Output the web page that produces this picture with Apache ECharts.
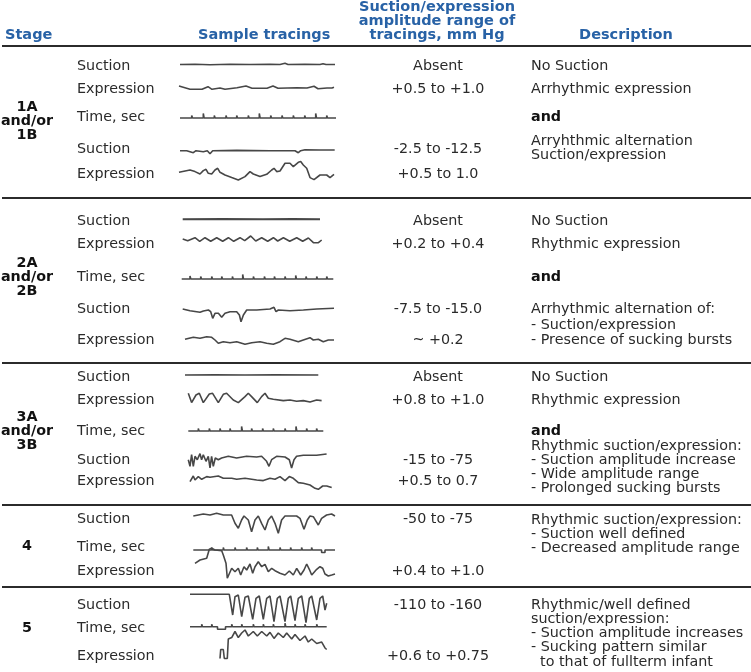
<!DOCTYPE html>
<html><head><meta charset="utf-8">
<script src="https://cdn.jsdelivr.net/npm/echarts@6/dist/echarts.min.js"></script>
<style>html,body{margin:0;padding:0;background:#fff;}#c{width:751px;height:672px;}</style>
</head><body><div id="c"></div>
<script>
// ---------- DATA (tracing deflections: [time, amplitude]) ----------
const r1Suction = [[0,0],[15,0.3],[30,-0.2],[50,0.2],[70,0],[90,0.2],[100,0],[102,1.3],[105,1.2],[108,0],[125,0.2],[140,0],[143,0.7],[146,0],[155,0]];
const r1Expression = [[0,2],[11,-1.3],[23,-1.3],[29,1.3],[33,-1.3],[41,0],[46,-1.3],[58,0.3],[67,2],[73,-0.3],[88,-0.3],[94,2],[99,-0.3],[118,0.3],[128,0],[135,1.7],[139,-0.7],[148,0],[150,1.7],[153,0],[155,0.7]];
const r1TimeTicks = [[11.7,12.5,2.5],[23.3,24.1,4.5],[34.3,35.1,2.5],[46,46.8,2.5],[56.7,57.5,2.5],[68.3,69.1,2.5],[79.3,80.1,4.5],[90.7,91.5,2.5],[102,102.8,2.5],[113.3,114.1,2.5],[124.7,125.5,2.5],[135.7,136.5,4.5],[146.7,147.5,2.5]];
const r1Suction2 = [[0,0],[6.7,0],[13.3,-2],[16,0],[23.3,-1],[27.3,0],[30,-3],[32.7,0],[56.7,0.3],[90,0],[115,0],[118.3,-2],[120.7,0],[125,1],[140,0.7],[154.7,0.7]];
const r1Expression2 = [[0,1],[11,3.3],[16,1.7],[21,-0.7],[24.3,2.7],[27,4],[29.3,0],[32.7,-0.7],[36,3.3],[38.7,5],[41,1],[46,-1.7],[52.7,-4.3],[59.3,-6.7],[66,-3.3],[71,1.7],[74.3,-0.7],[81,-3.3],[87.7,-1],[92.7,3.3],[95,5],[97.7,1.7],[101,2.3],[106,10],[111,10],[114.3,6.7],[119.3,11],[121.7,11.7],[124.3,8.3],[127.7,5],[131,-4.3],[135,-6.3],[141,-1.7],[147.7,-1.7],[151,-4.3],[155,-1]];

const r2Suction = [[0,0],[40,0.2],[80,0],[110,0.2],[137.3,0]];
const r2Expression = [[0,1],[5,-0.7],[12.3,2.3],[17,-1.3],[22.3,2.3],[28,-1.3],[34,2.3],[40,-1.3],[45.7,2.3],[51,-1.3],[57.3,2.3],[62,-0.7],[68,4],[73,-1],[79,2.3],[85,-1.3],[90.7,2.3],[95,-1],[100.7,2.3],[107,-1.3],[114,2.3],[120,-1.3],[125.7,2],[130.7,-2.7],[135.7,-2.7],[139,0]];
const r2TimeTicks = [[8.3,9.1,3],[19,19.8,2.5],[30,30.8,2.5],[40,40.8,2.5],[50.7,51.5,2.5],[61,61.8,4.5],[71.7,72.5,2.5],[82.7,83.5,2.5],[92.7,93.5,2.5],[103.3,104.1,2.5],[114,114.8,3.5],[124.3,125.1,2.5],[135,135.8,2.5],[145,145.8,2.5]];
const r2Suction2 = [[0,0],[7.3,-1.7],[17.3,-3.3],[20.7,-2],[25.7,-1],[28,-2.7],[30,-9.3],[32.3,-4.3],[35.7,-4.3],[39,-8.3],[42.3,-4.3],[47.3,-2.7],[54,-2.7],[56.7,-6],[58.3,-12.7],[60.7,-6],[64,-1],[74,-1],[87.3,0],[91.3,1.7],[93.3,-2.7],[95.7,-1],[107.3,-1.7],[120.7,-1],[134,0],[151.3,0.7]];
const r2Expression2 = [[0,0.7],[8.3,2.7],[15,1.7],[21.7,3.3],[26.7,2.7],[30,0],[33.3,-3.3],[38.3,-1.7],[45,-2.7],[51.7,-1.7],[60,-4.3],[66.7,-2.7],[75,-1.7],[81.7,-3.3],[88.3,-4.3],[95,-1.7],[100,1.7],[105,0.7],[113.3,-1.7],[118.3,0],[125,2.3],[128.3,0],[133.3,0.7],[138.3,-1.7],[143.3,0],[149,0]];

const r3Suction = [[0,0],[30,0.2],[60,0],[90,0.3],[133.3,0]];
const r3Expression = [[0,5],[3.3,-4.3],[7.7,3.3],[11,5],[15,-4.3],[21,4.3],[24.3,5],[30,-4.3],[35,4],[38.3,5],[45,-1.7],[50,-4.3],[56.7,1.7],[60,5],[63.3,1.7],[69,-4.3],[73.3,1.7],[76.7,5],[80,0],[85,-1],[95,-2.3],[101.7,-1.7],[108.3,-3],[115,-2.3],[121.7,-3.7],[128.3,-1.7],[133.3,-2.3]];
const r3TimeTicks = [[10,10.8,2.5],[21,21.8,2.5],[31.7,32.5,2.5],[41.7,42.5,2.5],[53.3,54.1,4.5],[63.3,64.1,2.5],[74.3,75.1,2.5],[85,85.8,2.5],[96.7,97.5,2.5],[107.7,108.5,4.5],[118.3,119.1,2.5],[128.3,129.1,2.5]];
const r3Suction2 = [[0,-2.7],[1.7,-9.3],[3.3,2.3],[5,-9.3],[6.7,0.7],[9,-2.7],[11.7,3.3],[13.3,-2.7],[15,2.3],[17.7,-4.3],[20,0.7],[21.7,-11],[23.3,0.7],[25,-9.3],[27,-1],[30,-2.7],[33.3,-1],[40,0.7],[48.3,-1],[58.3,0.7],[68.3,0],[73.3,0.7],[78.3,-4.3],[80.7,-9.3],[83.3,-2.7],[88.3,0.7],[96.7,0],[101,-2.7],[103.3,-11],[105.7,-2.7],[108.3,0.7],[115,1.7],[128.3,1.7],[138.3,3]];
const r3Expression2 = [[0,-3.3],[3.3,2.3],[5,-1.7],[8.3,1.7],[11.7,-1],[16.7,1.7],[20,1],[28.3,2.3],[33.3,0],[41.7,0],[46.7,-1],[55,0],[66.7,-1.7],[73.3,-2.3],[80,0],[85,-1],[90,1.7],[95,-2.3],[99.3,1.7],[103.3,0],[108.3,-4.3],[113.3,-5],[120,-6.7],[125,-10],[128.3,-11],[132.7,-7.7],[136.7,-7.7],[141.7,-9.3]];

const r4Suction = [[0,-1],[10,1],[16.7,0],[23.3,1.7],[30,0],[38.3,0],[41.7,-8.3],[45,-13.3],[48.3,-5],[50.7,-1],[55,-5],[58.3,-16.7],[61.7,-5],[65,-1],[68.3,-8.3],[71.7,-15],[75,-5],[78.3,-1],[81.7,-8.3],[85,-18.3],[88.3,-5],[91.7,-1],[103.3,-1],[106.7,-3.3],[110.7,-14.3],[114,-5],[116.7,-1],[120,-1.7],[125,-10],[128.3,-3.3],[133.3,0],[138.3,1],[141.7,-1]];
const r4TimeTicks = [[18.3,19.1,2.5],[30,30.8,2.5],[41.7,42.5,2.5],[53.3,54.1,2.5],[64,64.8,2.5],[75,75.8,3.5],[86.7,87.5,2.5],[97.3,98.1,2.5],[108.3,109.1,2.5],[118.3,119.1,2.5],[128.3,131.7,-2.5]];
const r4Expression = [[0,-13.3],[5,-10],[11.7,-8.3],[14.3,0.7],[16.7,1.7],[20,0],[26.7,-0.7],[28.3,-5],[31,-13.3],[32.3,-28.3],[34.3,-30],[36.7,-18.3],[40,-21.7],[43.3,-18.3],[45.7,-25],[49,-16.7],[51.7,-20],[55,-14],[57.7,-23.3],[60,-16.7],[63.3,-11.7],[66.7,-16.7],[70,-14.3],[73.3,-21.7],[76.7,-18.3],[80,-20.7],[85,-23.3],[90,-25],[94.3,-21],[98.3,-25],[101.7,-18.3],[105.7,-25],[109,-20],[111.7,-14],[114.3,-19.3],[116.7,-25],[121.7,-19.3],[125,-16.7],[127.7,-18.3],[130,-24],[133.3,-26],[136.7,-25],[140,-24]];

const r5Suction = [[0,0.7],[39.3,0.7],[42.7,-20],[45,-1.7],[48.3,0],[51.7,-21.7],[55,-2.3],[58.3,-1],[62.7,-24.3],[66,-3.3],[69.3,-1],[73.3,-24.3],[76.7,-3.3],[80,-1],[84,-26.7],[87.3,-3.3],[90,-1],[95,-26.7],[98.3,-3.3],[100.7,-1],[105,-25.7],[108.3,-3.3],[111.7,-1],[116,-27.7],[119.3,-3.3],[121.7,-1],[126.7,-25],[130,-3.3],[132.7,-1],[135,-15],[136.7,-8.3]];
const r5TimeTicks = [[11.7,12.5,2.5],[21.7,22.5,2.5],[27.5,35.5,-2.5],[41.7,42.5,2.5],[51.7,52.5,2.5],[63.3,64.1,2.5],[73.3,74.1,2.5],[83.3,84.1,2.5],[95,95.8,3.5],[105,105.8,2.5],[115,115.8,2.5],[126.7,127.5,2.5]];
const r5Expression = [[0,-25],[0.7,-15],[3.3,-15],[4.3,-25],[7.3,-25],[8.3,-3.3],[11.7,-1.7],[15,5],[18.3,-1.7],[21.7,3.3],[25,6.7],[28.3,0],[33.3,5],[37.3,0],[41.7,5],[46.7,0],[50,4],[54,-2.7],[58.3,3.3],[63.3,-1.7],[66.7,3.3],[71.7,-3.3],[75,1.7],[80,-5],[85,0],[88.3,-6.7],[91.7,-3.3],[96.7,-8.3],[101.7,-6.7],[105,-13.3],[106.7,-15]];

// ---------- TEXT ----------
const headerAmplitude = ["Suction/expression","amplitude range of","tracings, mm Hg"];
const stageNames = [["1A","and/or","1B"],["2A","and/or","2B"],["3A","and/or","3B"],["4"],["5"]];
const signalNames = [
  ["Suction","Expression","Time, sec","Suction","Expression"],
  ["Suction","Expression","Time, sec","Suction","Expression"],
  ["Suction","Expression","Time, sec","Suction","Expression"],
  ["Suction","Time, sec","Expression"],
  ["Suction","Time, sec","Expression"]
];
const amplitudes = [
  ["Absent","+0.5 to +1.0","","-2.5 to -12.5","+0.5 to 1.0"],
  ["Absent","+0.2 to +0.4","","-7.5 to -15.0","~ +0.2"],
  ["Absent","+0.8 to +1.0","","-15 to -75","+0.5 to 0.7"],
  ["-50 to -75","","+0.4 to +1.0"],
  ["-110 to -160","","+0.6 to +0.75"]
];
const descriptions = [
  ["No Suction","Arrhythmic expression","*and","Arryhthmic alternation","Suction/expression"],
  ["No Suction","Rhythmic expression","*and","Arrhythmic alternation of:","- Suction/expression","- Presence of sucking bursts"],
  ["No Suction","Rhythmic expression","*and","Rhythmic suction/expression:","- Suction amplitude increase","- Wide amplitude range","- Prolonged sucking bursts"],
  ["Rhythmic suction/expression:","- Suction well defined","- Decreased amplitude range"],
  ["Rhythmic/well defined","suction/expression:","- Suction amplitude increases","- Sucking pattern similar","  to that of fullterm infant"]
];

// ---------- LAYOUT ----------
const stageY = [[107,121,135],[263,277,291],[417,431,445],[546],[628]];
const signalY = [[66,89,117,149,174],[221,244,277,309,340],[377,400,431,460,481],[519,547,571],[605,628,656]];
const descY = [[66,89,117,141,155],[221,244,277,309,325,340],[377,400,431,446,460,474,488],[520,534,548],[605,619,633,647,662]];
const separators = [[46,2.2],[198,1.8],[363,1.8],[505,1.8],[587,1.8]];

const traces = [
  {d:r1Suction,x:180,y:64.5,w:155},
  {d:r1Expression,x:179,y:88,w:155},
  {t:r1TimeTicks,x:180,y:118,w:156},
  {d:r1Suction2,x:180,y:150.7,w:155},
  {d:r1Expression2,x:179,y:173.3,w:155},
  {d:r2Suction,x:182.7,y:219.3,w:137.3,lw:2},
  {d:r2Expression,x:182.7,y:240,w:139},
  {t:r2TimeTicks,x:181.7,y:279,w:151.6},
  {d:r2Suction2,x:182.7,y:309,w:151.3},
  {d:r2Expression2,x:185,y:340,w:149},
  {d:r3Suction,x:185,y:375,w:133.3},
  {d:r3Expression,x:188.3,y:398.3,w:133.3},
  {t:r3TimeTicks,x:188.3,y:431,w:135},
  {d:r3Suction2,x:188.3,y:457,w:138.3},
  {d:r3Expression2,x:190,y:478.3,w:141.7},
  {d:r4Suction,x:193.3,y:515,w:141.7},
  {t:r4TimeTicks,x:193.3,y:550,w:141.7},
  {d:r4Expression,x:195,y:550,w:140},
  {d:r5Suction,x:190,y:595,w:136.7},
  {t:r5TimeTicks,x:190,y:626.7,w:136.7},
  {d:r5Expression,x:220,y:640,w:106.7}
];

function timeLine(ticks, w){
  const pts = [[0,0]];
  ticks.forEach(([s,e,h]) => { pts.push([s,0],[s,h],[e,h],[e,0]); });
  pts.push([w,0]);
  return pts;
}

const FONT = "'DejaVu Sans', Verdana, sans-serif";
const TXT = '#2a2a2a', BLUE = '#2862a6', LINE = '#474747';
const grids = [], xAxes = [], yAxes = [], series = [];
const H = 40;
traces.forEach((tr, i) => {
  grids.push({left: tr.x, top: tr.y - H, width: tr.w, height: 2*H, containLabel:false});
  xAxes.push({type:'value', gridIndex:i, min:0, max:tr.w, show:false});
  yAxes.push({type:'value', gridIndex:i, min:-H, max:H, show:false});
  series.push({type:'line', xAxisIndex:i, yAxisIndex:i, data: tr.t ? timeLine(tr.t, tr.w) : tr.d,
    showSymbol:false, symbol:'none', clip:false, smooth:false, silent:true,
    lineStyle:{color:LINE, width: tr.lw || 1.6}});
});

const g = [];
function txt(text, x, y, opt){
  opt = opt || {};
  g.push({type:'text', silent:true, style:{text, x, y, fill: opt.fill || TXT,
    font: (opt.bold ? 'bold ' : '') + (opt.size || 14.3) + 'px ' + FONT,
    textAlign: opt.align || 'left', textVerticalAlign:'middle', align: opt.align || 'left', verticalAlign:'middle'}});
}
// header
txt('Stage', 5, 35, {bold:true, fill:BLUE, size:14.5});
txt('Sample tracings', 198, 35, {bold:true, fill:BLUE, size:14.5});
headerAmplitude.forEach((s, i) => txt(s, 437, 7 + 14*i, {bold:true, fill:BLUE, align:'center', size:14.5}));
txt('Description', 626, 35, {bold:true, fill:BLUE, align:'center', size:14.5});
separators.forEach(([y, lw]) => g.push({type:'line', silent:true, shape:{x1:2, y1:y, x2:751, y2:y}, style:{stroke:'#2b2b2b', lineWidth:lw}}));
stageNames.forEach((arr, r) => arr.forEach((s, k) => txt(s, 27, stageY[r][k], {bold:true, fill:'#111', align:'center'})));
signalNames.forEach((arr, r) => arr.forEach((s, k) => txt(s, 77, signalY[r][k])));
amplitudes.forEach((arr, r) => arr.forEach((s, k) => { if (s) txt(s, 438, signalY[r][k], {align:'center'}); }));
descriptions.forEach((arr, r) => arr.forEach((s, k) => {
  const bold = s.startsWith('*');
  txt(bold ? s.slice(1) : s, 531, descY[r][k], {bold, fill: bold ? '#111' : TXT});
}));

const chart = echarts.init(document.getElementById('c'), null, {renderer:'canvas'});
chart.setOption({
  backgroundColor:'#ffffff',
  animation:false,
  grid: grids, xAxis: xAxes, yAxis: yAxes, series,
  graphic: {elements: g}
});
</script></body></html>
